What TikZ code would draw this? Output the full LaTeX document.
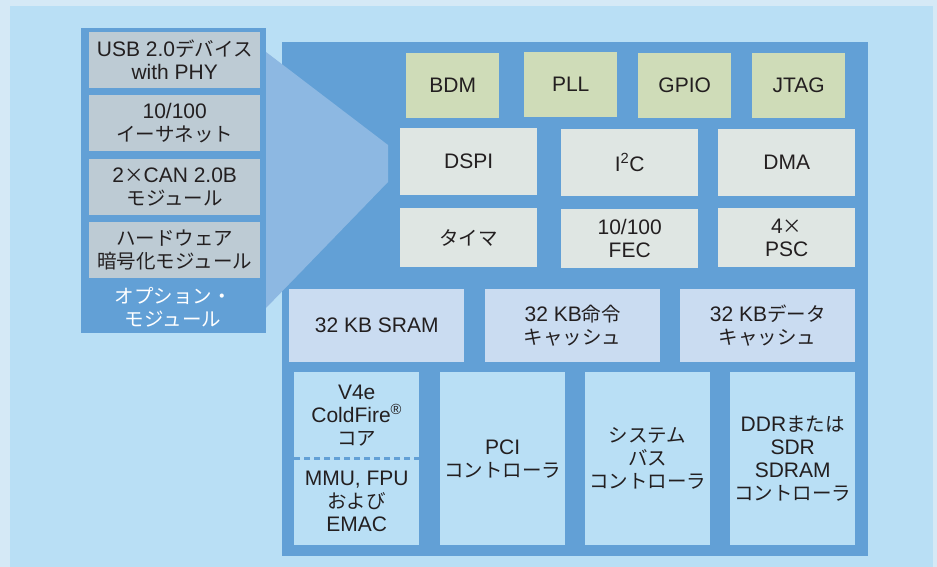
\documentclass[tikz,border=0pt]{standalone}
\usepackage{fontspec}
\setmainfont{Liberation Sans}
\newfontfamily\jpf{Noto Sans CJK JP}
\newcommand\jp[1]{{\jpf\fontsize{19.5}{23}\selectfont #1}}
\definecolor{outerc}{HTML}{D5E9F6}
\definecolor{bgc}{HTML}{B9DFF5}
\definecolor{midc}{HTML}{62A0D6}
\definecolor{func}{HTML}{8DB8E2}
\definecolor{grayc}{HTML}{BDCBD4}
\definecolor{grnc}{HTML}{CFDCB8}
\definecolor{lgc}{HTML}{DFE6E3}
\definecolor{cachec}{HTML}{CADCF1}
\definecolor{botc}{HTML}{B9DFF5}
\definecolor{txtc}{HTML}{231F20}
\tikzset{
  blk/.style={draw=none, inner sep=0pt, anchor=north west, align=center, text=txtc,
    font=\fontsize{21}{23}\selectfont},
  optbox/.style={blk, fill=grayc, minimum width=171pt, minimum height=56pt},
  grnbox/.style={blk, fill=grnc, minimum width=93pt, minimum height=65pt},
  lgbox/.style={blk, fill=lgc, minimum width=137pt},
  cachebox/.style={blk, fill=cachec, minimum width=175pt, minimum height=73pt},
  botbox/.style={blk, fill=botc, minimum width=125pt}
}
\begin{document}
\begin{tikzpicture}[x=1pt,y=-1pt]
\useasboundingbox (0,0) rectangle (937,567);
\fill[outerc] (0,0) rectangle (937,567);
\fill[bgc] (10,6) rectangle (933,567);

% option module panel
\node[blk, fill=midc, minimum width=185pt, minimum height=305pt] (opt) at (81,28) {};
\node[optbox] (usb) at (89,32) {USB 2.0\jp{デバイス}\\with PHY};
\node[optbox] (eth) at (89,95) {10/100\\\jp{イーサネット}};
\node[optbox] (can) at (89,159) {2\jp{×}CAN 2.0B\\\jp{モジュール}};
\node[optbox] (hw) at (89,222) {\jp{ハードウェア}\\\jp{暗号化モジュール}};
\node[text=white, align=center, inner sep=0pt, font=\fontsize{19.5}{23}\selectfont] (optlbl) at (173,307) {\jp{オプション・}\\\jp{モジュール}};

% main chip
\node[blk, fill=midc, minimum width=586pt, minimum height=514pt] (main) at (282,42) {};
\fill[func] (266,52) -- (388,145) -- (388,182) -- (266,308) -- cycle;

% peripherals
\node[grnbox] (bdm) at (406,53) {BDM};
\node[grnbox] (pll) at (524,52) {PLL};
\node[grnbox] (gpio) at (638,53) {GPIO};
\node[grnbox] (jtag) at (752,53) {JTAG};

\node[lgbox, minimum height=67pt] (dspi) at (400,128) {DSPI};
\node[lgbox, minimum height=67pt] (i2c) at (561,129) {I\textsuperscript{2}C};
\node[lgbox, minimum height=67pt] (dma) at (718,129) {DMA};
\node[lgbox, minimum height=59pt] (timer) at (400,208) {\jp{タイマ}};
\node[lgbox, minimum height=59pt] (fec) at (561,209) {10/100\\FEC};
\node[lgbox, minimum height=59pt] (psc) at (718,208) {4\jp{×}\\PSC};

\node[cachebox] (sram) at (289,289) {32 KB SRAM};
\node[cachebox] (icache) at (485,289) {32 KB\jp{命令}\\\jp{キャッシュ}};
\node[cachebox] (dcache) at (680,289) {32 KB\jp{データ}\\\jp{キャッシュ}};

\node[botbox, minimum height=86pt] (v4top) at (294,372) {V4e\\ColdFire\textsuperscript{®}\\\jp{コア}};
\node[botbox, minimum height=87pt] (v4bot) at (294,458) {MMU, FPU\\\jp{および}\\EMAC};
\draw[midc, line width=2.6pt, dash pattern=on 6pt off 4pt] (v4top.south west) -- (v4top.south east);
\node[botbox, minimum height=173pt] (pci) at (440,372) {PCI\\\jp{コントローラ}};
\node[botbox, minimum height=173pt] (sysbus) at (585,372) {\jp{システム}\\\jp{バス}\\\jp{コントローラ}};
\node[botbox, minimum height=173pt] (ddr) at (730,372) {DDR\jp{または}\\SDR\\SDRAM\\\jp{コントローラ}};
\end{tikzpicture}
\end{document}
